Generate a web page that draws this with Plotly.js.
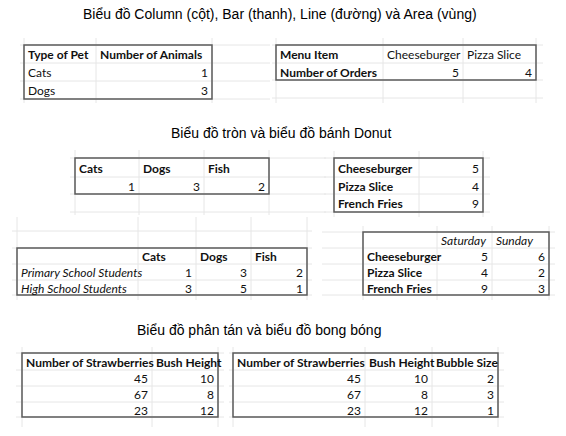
<!DOCTYPE html>
<html>
<head>
<meta charset="utf-8">
<script src="https://cdn.plot.ly/plotly-3.0.1.min.js"></script>
<style>
  html, body { margin: 0; padding: 0; background: #fff; }
  #sheet { width: 566px; height: 436px; }
</style>
</head>
<body>
<div id="sheet"></div>
<script>
// values
const petTypes = ['Cats', 'Dogs'];
const petCounts = [1, 3];

const menuItems = ['Cheeseburger', 'Pizza Slice'];
const menuOrders = [5, 4];

const pieLabels = ['Cats', 'Dogs', 'Fish'];
const pieValues = [1, 3, 2];

const donutItems = ['Cheeseburger', 'Pizza Slice', 'French Fries'];
const donutValues = [5, 4, 9];

const weekDays = ['Saturday', 'Sunday'];
const saturdayOrders = [5, 4, 9];
const sundayOrders = [6, 2, 3];

const studentGroups = ['Primary School Students', 'High School Students'];
const groupPets = ['Cats', 'Dogs', 'Fish'];
const primaryCounts = [1, 3, 2];
const highCounts = [3, 5, 1];

const strawberries = [45, 67, 23];
const bushHeight = [10, 8, 12];
const bubbleSize = [2, 3, 1];

const sectionTitles = [
  'Biểu đồ Column (cột), Bar (thanh), Line (đường) và Area (vùng)',
  'Biểu đồ tròn và biểu đồ bánh Donut',
  'Biểu đồ phân tán và biểu đồ bong bóng'
];

// table layouts (pixel grid of the sheet)
const tables = [
  { cols: [24, 96, 212], rows: [45, 63, 81, 99],
    cells: [['Type of Pet', 'Number of Animals']].concat(petTypes.map((p, i) => [p, petCounts[i]])),
    boldRow: true, grid: { x0: 20, x1: 270, y0: 38, y1: 103, rows: [], cols: [] } },
  { cols: [276, 383, 463, 536], rows: [45, 63, 80],
    cells: [['Menu Item'].concat(menuItems), ['Number of Orders'].concat(menuOrders)],
    boldCol: true, grid: { x0: 272, x1: 543, y0: 38, y1: 103, rows: [98], cols: [] } },
  { cols: [75, 139, 204, 269], rows: [158, 177, 194],
    cells: [pieLabels, pieValues],
    boldRow: true, grid: { x0: 70, x1: 326, y0: 150, y1: 215, rows: [212], cols: [] } },
  { cols: [334, 419, 483], rows: [158, 177, 194, 212],
    cells: donutItems.map((d, i) => [d, donutValues[i]]),
    boldCol: true, grid: { x0: 324, x1: 490, y0: 151, y1: 217, rows: [], cols: [] } },
  { cols: [363, 437, 492, 549], rows: [232, 248, 264, 280, 295],
    cells: [[''].concat(weekDays)].concat(donutItems.map((d, i) => [d, saturdayOrders[i], sundayOrders[i]])),
    italicRow: true, boldCol: true, grid: { x0: 322, x1: 555, y0: 226, y1: 300, rows: [], cols: [] } },
  { cols: [17, 138, 196, 251, 307], rows: [248, 264, 280, 295],
    cells: [[''].concat(groupPets), [studentGroups[0]].concat(primaryCounts), [studentGroups[1]].concat(highCounts)],
    boldRow: true, italicCol: true, grid: { x0: 12, x1: 312, y0: 217, y1: 300, rows: [231], cols: [] } },
  { cols: [22, 152, 218], rows: [353, 370, 386, 402, 417],
    cells: [['Number of Strawberries', 'Bush Height']].concat(strawberries.map((s, i) => [s, bushHeight[i]])),
    boldRow: true, grid: { x0: 16, x1: 224, y0: 347, y1: 427, rows: [], cols: [] } },
  { cols: [233, 365, 432, 498], rows: [353, 370, 386, 402, 417],
    cells: [['Number of Strawberries', 'Bush Height', 'Bubble Size']].concat(strawberries.map((s, i) => [s, bushHeight[i], bubbleSize[i]])),
    boldRow: true, grid: { x0: 229, x1: 504, y0: 347, y1: 427, rows: [], cols: [] } }
];

const shapes = [];
const annotations = [];
const faint = { color: '#e6e6e6', width: 1 };
const border = { color: '#5b5b5b', width: 1.5 };

tables.forEach(tb => {
  const g = tb.grid;
  tb.rows.concat(g.rows).forEach(y => {
    shapes.push({ type: 'line', xref: 'x', yref: 'y', x0: g.x0, x1: g.x1, y0: y, y1: y, line: faint, layer: 'below' });
  });
  tb.cols.concat(g.cols).forEach(x => {
    shapes.push({ type: 'line', xref: 'x', yref: 'y', x0: x, x1: x, y0: g.y0, y1: g.y1, line: faint, layer: 'below' });
  });
  shapes.push({ type: 'rect', xref: 'x', yref: 'y',
    x0: tb.cols[0], x1: tb.cols[tb.cols.length - 1],
    y0: tb.rows[0], y1: tb.rows[tb.rows.length - 1], line: border });

  tb.cells.forEach((row, r) => {
    row.forEach((val, c) => {
      if (val === '') return;
      const isNum = typeof val === 'number';
      const bold = (tb.boldRow && r === 0) || (tb.boldCol && c === 0);
      const italic = (tb.italicRow && r === 0) || (tb.italicCol && c === 0);
      annotations.push({
        xref: 'x', yref: 'y', showarrow: false,
        x: isNum ? tb.cols[c + 1] - 2 : tb.cols[c] + 2,
        xanchor: isNum ? 'right' : 'left',
        y: (tb.rows[r] + tb.rows[r + 1]) / 2 + 0.5, yanchor: 'middle',
        text: bold ? '<b>' + val + '</b>' : (italic ? '<i>' + val + '</i>' : String(val)),
        font: { family: 'Lato, sans-serif', size: 12, color: '#111' }
      });
    });
  });
});

const titlePos = [[280, 14], [281, 133], [259, 330]];
sectionTitles.forEach((t, i) => {
  annotations.push({
    xref: 'x', yref: 'y', showarrow: false,
    x: titlePos[i][0], y: titlePos[i][1], xanchor: 'center', yanchor: 'middle',
    text: t, font: { family: 'Liberation Sans, Arial, sans-serif', size: 14, color: '#000' }
  });
});

const layout = {
  width: 566, height: 436,
  margin: { l: 0, r: 0, t: 0, b: 0 },
  paper_bgcolor: '#fff', plot_bgcolor: '#fff',
  xaxis: { range: [0, 566], visible: false, fixedrange: true },
  yaxis: { range: [436, 0], visible: false, fixedrange: true },
  shapes: shapes,
  annotations: annotations,
  showlegend: false
};

Plotly.newPlot('sheet', [], layout, { staticPlot: true });
</script>
</body>
</html>
